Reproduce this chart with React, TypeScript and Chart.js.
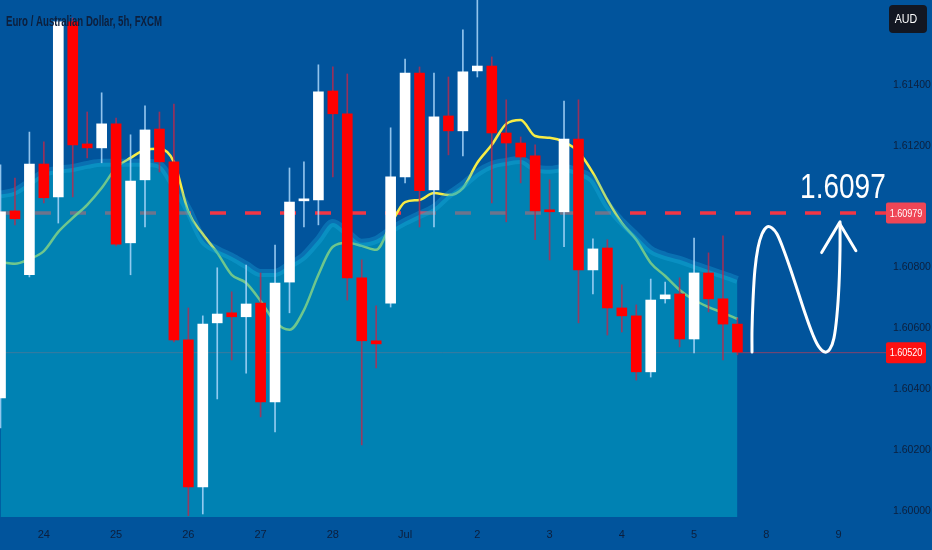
import React, { useEffect, useRef } from "react";
import { Chart, registerables } from "chart.js";

Chart.register(...registerables);

// ---- data ----
const opens = [1.60371,1.60986,1.60776,1.61140,1.61032,1.61607,1.61206,1.61193,1.61272,1.60881,1.61088,1.61255,1.61147,1.60562,1.60079,1.60618,1.60651,1.60638,1.60683,1.60358,1.60752,1.61019,1.61022,1.61380,1.61305,1.60766,1.60559,1.60683,1.61098,1.61439,1.61055,1.61298,1.61249,1.61446,1.61462,1.61242,1.61209,1.61167,1.60989,1.60983,1.61222,1.60792,1.60864,1.60667,1.60641,1.60457,1.60697,1.60713,1.60565,1.60782,1.60697,1.60614];
const highs = [1.61137,1.61094,1.61245,1.61213,1.61613,1.61620,1.61311,1.61374,1.61291,1.61236,1.61331,1.61311,1.61337,1.60667,1.60641,1.60799,1.60720,1.60808,1.60782,1.60874,1.61127,1.61147,1.61466,1.61459,1.61436,1.60825,1.60674,1.61259,1.61485,1.61459,1.61439,1.61426,1.61581,1.61700,1.61492,1.61351,1.61229,1.61203,1.61088,1.61347,1.61351,1.60894,1.60891,1.60743,1.60677,1.60762,1.60752,1.60766,1.60897,1.60848,1.60904,1.60634];
const lows = [1.60273,1.60940,1.60769,1.61012,1.60946,1.61032,1.61160,1.61144,1.60871,1.60776,1.60933,1.61114,1.60555,1.59984,1.59990,1.60368,1.60496,1.60453,1.60309,1.60260,1.60651,1.60933,1.60940,1.61098,1.60693,1.60217,1.60470,1.60670,1.61078,1.60933,1.60933,1.61170,1.61167,1.61426,1.61012,1.60950,1.61078,1.60891,1.60825,1.60868,1.60618,1.60713,1.60578,1.60588,1.60430,1.60440,1.60683,1.60539,1.60519,1.60654,1.60496,1.60513];
const closes = [1.60983,1.60960,1.61140,1.61029,1.61607,1.61203,1.61193,1.61272,1.60877,1.61084,1.61252,1.61147,1.60562,1.60079,1.60614,1.60647,1.60638,1.60680,1.60358,1.60749,1.61015,1.61022,1.61377,1.61305,1.60766,1.60559,1.60549,1.61098,1.61439,1.61052,1.61295,1.61249,1.61443,1.61462,1.61242,1.61209,1.61163,1.60986,1.60983,1.61222,1.60792,1.60861,1.60667,1.60641,1.60457,1.60693,1.60710,1.60565,1.60782,1.60697,1.60614,1.60522];
const emaValues = [1.60818,1.60812,1.60828,1.60854,1.60917,1.60963,1.61006,1.61061,1.61127,1.61160,1.61186,1.61190,1.61147,1.60983,1.60910,1.60848,1.60776,1.60749,1.60690,1.60621,1.60595,1.60660,1.60776,1.60868,1.60881,1.60871,1.60858,1.60940,1.61015,1.61022,1.61045,1.61038,1.61061,1.61144,1.61203,1.61272,1.61285,1.61232,1.61226,1.61213,1.61180,1.61111,1.61022,1.60946,1.60891,1.60815,1.60772,1.60726,1.60693,1.60670,1.60651,1.60631];
const areaValues = [1.61040,1.61050,1.61080,1.61110,1.61121,1.61127,1.61137,1.61144,1.61144,1.61144,1.61144,1.61137,1.61071,1.60989,1.60891,1.60858,1.60835,1.60808,1.60782,1.60782,1.60808,1.60838,1.60891,1.60946,1.60914,1.60881,1.60891,1.60923,1.60950,1.60973,1.60996,1.61038,1.61071,1.61111,1.61137,1.61147,1.61153,1.61127,1.61121,1.61127,1.61114,1.61088,1.61006,1.60950,1.60904,1.60858,1.60838,1.60825,1.60808,1.60792,1.60776,1.60759];

const dayTickIndex = [3, 8, 13, 18, 23, 28, 33, 38, 43, 48, 53, 58];
const dayTickLabels = ["24", "25", "26", "27", "28", "Jul", "2", "3", "4", "5", "8", "9"];
const priceTicks = [1.6, 1.602, 1.604, 1.606, 1.608, 1.612, 1.614];

const targetLevel = 1.60979;
const lastPrice = 1.6052;
const targetText = "1.6097";
const targetTextPos = [58.3, 1.61029];
const titleText = "Euro / Australian Dollar, 5h, FXCM";
const currencyText = "AUD";

// hand-drawn projection path (index, price)
const pathX = [52.01, 52.01, 52.08, 52.21, 52.42, 52.7, 53.04, 53.39, 53.74, 54.15, 54.64, 55.19, 55.74, 56.23, 56.64, 57.06, 57.4, 57.68, 57.89, 58.03, 58.1, 58.1];
const pathY = [1.60522, 1.60595, 1.60693, 1.60792, 1.60864, 1.6091, 1.60933, 1.6093, 1.6091, 1.60864, 1.60799, 1.6072, 1.60641, 1.60578, 1.60539, 1.60522, 1.60532, 1.60568, 1.60644, 1.60743, 1.60858, 1.6095];
const arrowX = [56.83, 58.05, 59.2];
const arrowY = [1.60849, 1.60946, 1.60855];

// ---- style ----
const BG = "#01549c";
const FONT = "'Liberation Sans', Arial, sans-serif";
const TITLE_FONT = "'Liberation Sans', Arial, sans-serif";
const TEXT_DARK = "#0d1f3c";

export default function App() {
  const ref = useRef<HTMLCanvasElement | null>(null);

  useEffect(() => {
    document.body.style.margin = "0";
    const canvas = ref.current;
    if (!canvas) return;
    const idx = opens.map((_, i) => i);
    const up = opens.map((o, i) => closes[i] >= o);

    const narrowText = (ctx: any, text: string, x: number, y: number, sx: number) => {
      ctx.save();
      ctx.translate(x, y);
      ctx.scale(sx, 1);
      ctx.fillText(text, 0, 0);
      ctx.restore();
    };

    const overlay = {
      id: "overlay",
      beforeDraw(chart: any) {
        const { ctx, width, height } = chart;
        ctx.save();
        ctx.fillStyle = BG;
        ctx.fillRect(0, 0, width, height);
        ctx.restore();
      },
      afterDraw(chart: any) {
        const { ctx, chartArea } = chart;
        const xs = chart.scales.x;
        const ys = chart.scales.y;
        ctx.save();
        // title
        ctx.font = `bold 15px ${TITLE_FONT}`;
        ctx.fillStyle = TEXT_DARK;
        ctx.textAlign = "left";
        ctx.textBaseline = "alphabetic";
        const tw = ctx.measureText(titleText).width;
        narrowText(ctx, titleText, 6, 25.5, 156 / tw);
        // currency box
        ctx.fillStyle = "#131722";
        ctx.beginPath();
        ctx.roundRect(889, 5, 38, 28, 4);
        ctx.fill();
        ctx.fillStyle = "#ffffff";
        ctx.font = `13px ${FONT}`;
        ctx.textAlign = "center";
        ctx.textBaseline = "middle";
        narrowText(ctx, currencyText, 906, 19.5, 0.82);
        // price labels
        const lab = (v: number, color: string) => {
          const py = ys.getPixelForValue(v);
          ctx.fillStyle = color;
          ctx.beginPath();
          ctx.roundRect(chartArea.right + 9, py - 10.5, 40, 21, 2);
          ctx.fill();
          ctx.fillStyle = "#ffffff";
          ctx.font = `11px ${FONT}`;
          ctx.textAlign = "center";
          ctx.textBaseline = "middle";
          narrowText(ctx, v.toFixed(5), chartArea.right + 29, py + 0.5, 0.82);
        };
        lab(targetLevel, "#ef4656");
        lab(lastPrice, "#ff1010");
        // target text
        ctx.font = `35px ${FONT}`;
        ctx.fillStyle = "#ffffff";
        ctx.textAlign = "center";
        ctx.textBaseline = "alphabetic";
        narrowText(ctx, targetText, xs.getPixelForValue(targetTextPos[0]), ys.getPixelForValue(targetTextPos[1]), 0.8);
        ctx.restore();
      },
    };

    const chart = new Chart(canvas, {
      type: "bar",
      data: {
        datasets: [
          {
            type: "line",
            label: "path",
            data: pathX.map((x, i) => ({ x, y: pathY[i] })),
            borderColor: "#ffffff",
            borderWidth: 3,
            pointRadius: 0,
            tension: 0.35,
            fill: false,
            borderCapStyle: "round",
            order: 0,
          } as any,
          {
            type: "line",
            label: "arrow",
            data: arrowX.map((x, i) => ({ x, y: arrowY[i] })),
            borderColor: "#ffffff",
            borderWidth: 3,
            pointRadius: 0,
            tension: 0,
            fill: false,
            borderCapStyle: "round",
            borderJoinStyle: "round",
            order: 0,
          } as any,
          {
            type: "bar",
            label: "bodies",
            data: idx.map((i) => ({ x: i, y: [opens[i], closes[i]] })),
            backgroundColor: up.map((u) => (u ? "#ffffff" : "#ff0000")),
            borderWidth: 0,
            barThickness: 10,
            minBarLength: 2,
            grouped: false,
            order: 2,
          } as any,
          {
            type: "bar",
            label: "wicks",
            data: idx.map((i) => ({ x: i, y: [lows[i], highs[i]] })),
            backgroundColor: up.map((u) => (u ? "rgba(170,215,250,0.85)" : "rgba(190,40,75,0.8)")),
            borderWidth: 0,
            barThickness: 1,
            grouped: false,
            order: 3,
          } as any,
          {
            type: "line",
            label: "area",
            data: idx.map((i) => ({ x: i, y: areaValues[i] })),
            fill: "start",
            backgroundColor: "rgba(0,168,198,0.55)",
            borderColor: "rgba(30,180,230,0.3)",
            borderWidth: 8,
            pointRadius: 0,
            cubicInterpolationMode: "monotone",
            order: 7,
          } as any,
          {
            type: "line",
            label: "ema",
            data: idx.map((i) => ({ x: i, y: emaValues[i] })),
            borderColor: "#f7ec45",
            borderWidth: 2.5,
            pointRadius: 0,
            cubicInterpolationMode: "monotone",
            fill: false,
            order: 8,
          } as any,
          {
            type: "line",
            label: "last",
            data: [{ x: -1, y: lastPrice }, { x: 61.3, y: lastPrice }],
            borderColor: "rgba(242,54,69,0.55)",
            borderWidth: 1,
            pointRadius: 0,
            fill: false,
            clip: false,
            order: 9,
          } as any,
          {
            type: "line",
            label: "target",
            data: [{ x: -0.035, y: targetLevel }, { x: 61.3, y: targetLevel }],
            borderColor: "#f23645",
            borderWidth: 3.5,
            borderDash: [16, 19],
            pointRadius: 0,
            fill: false,
            clip: false,
            order: 10,
          } as any,
        ],
      },
      options: {
        responsive: false,
        animation: false,
        devicePixelRatio: 1,
        layout: { padding: 0, autoPadding: false },
        plugins: { legend: { display: false }, tooltip: { enabled: false }, title: { display: false } },
        scales: {
          x: {
            type: "linear",
            min: -0.035,
            max: 60.66,
            offset: false,
            grid: { display: false, drawTicks: false },
            border: { display: false },
            afterBuildTicks: (s: any) => {
              s.ticks = dayTickIndex.map((v) => ({ value: v }));
            },
            afterFit: (s: any) => {
              s.height = 33;
              s.paddingLeft = 0;
              s.paddingRight = 0;
            },
            ticks: {
              autoSkip: false,
              maxRotation: 0,
              padding: 11,
              color: TEXT_DARK,
              font: { family: FONT, size: 11 },
              callback: (v: any) => {
                const k = dayTickIndex.indexOf(Number(v));
                return k >= 0 ? dayTickLabels[k] : "";
              },
            },
          },
          y: {
            type: "linear",
            position: "right",
            min: 1.5998,
            max: 1.61679,
            grid: { display: false, drawTicks: false },
            border: { display: false },
            afterBuildTicks: (s: any) => {
              s.ticks = priceTicks.map((v) => ({ value: v }));
            },
            afterFit: (s: any) => {
              s.width = 55;
              s.paddingTop = 0;
              s.paddingBottom = 0;
            },
            ticks: {
              padding: 16,
              crossAlign: "near",
              color: TEXT_DARK,
              font: { family: FONT, size: 10.5 },
              callback: (v: any) => Number(v).toFixed(5),
            },
          },
        },
      } as any,
      plugins: [overlay],
    });
    return () => chart.destroy();
  }, []);

  return (
    <div style={{ position: "absolute", left: 0, top: 0, width: 932, height: 550 }}>
      <canvas ref={ref} width={932} height={550} style={{ display: "block", width: 932, height: 550 }} />
    </div>
  );
}
